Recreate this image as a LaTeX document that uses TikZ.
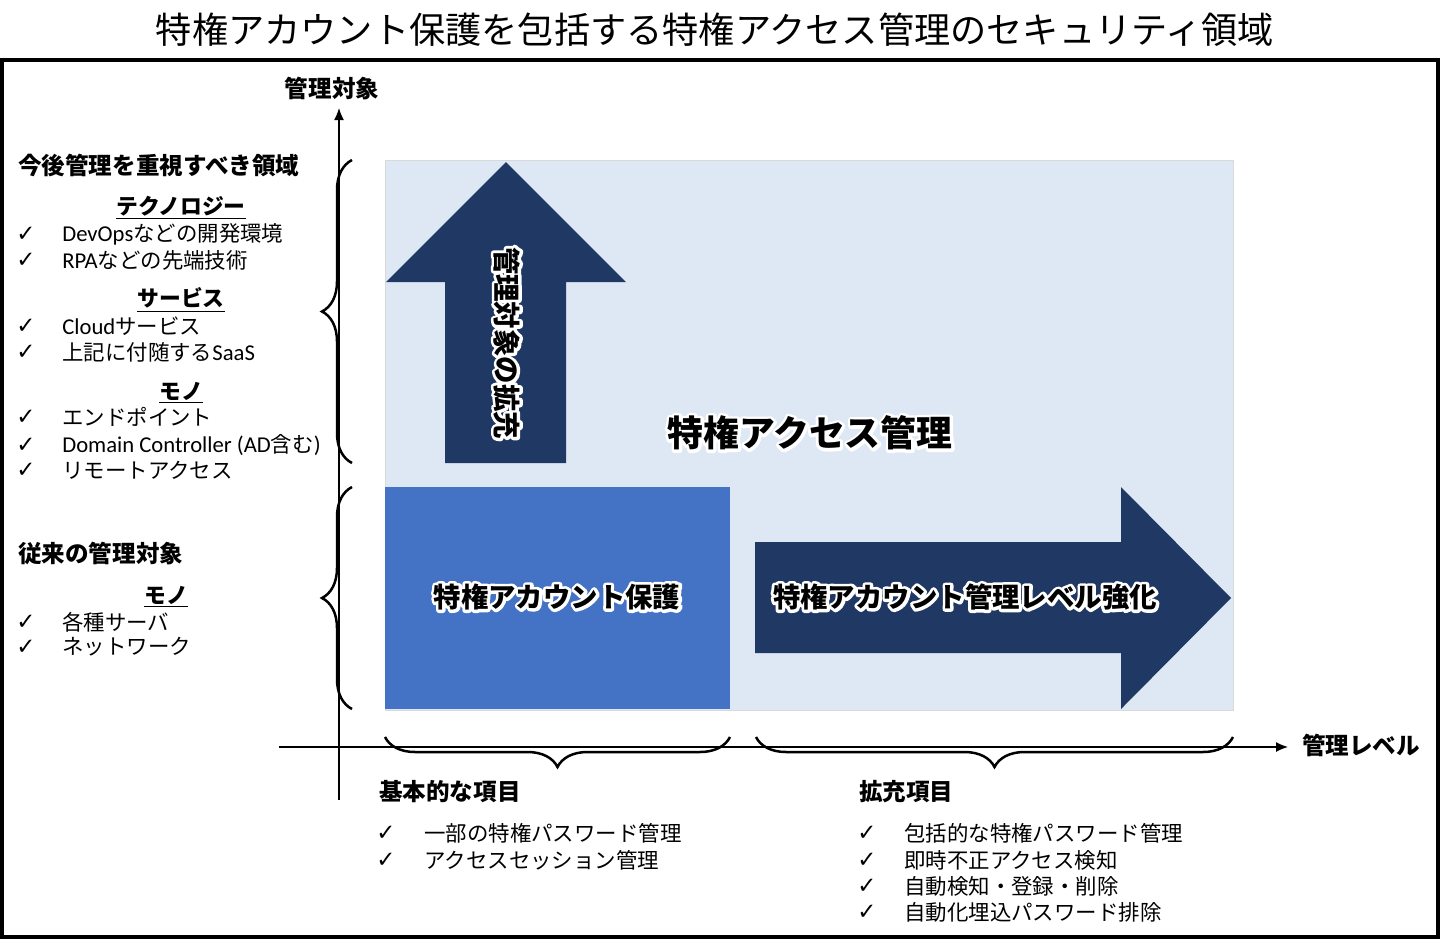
\documentclass[tikz,border=0pt]{standalone}
\usepackage{fontspec}
\setmainfont{Noto Sans CJK JP}
\newfontfamily\checkfont{DejaVu Sans}
\newfontfamily\latinfont{Carlito}
\usetikzlibrary{arrows.meta,decorations.pathreplacing}
\definecolor{areabg}{HTML}{DEE8F4}
\definecolor{protectblue}{HTML}{4472C4}
\definecolor{navyarrow}{HTML}{203864}
\newcommand{\glow}[1]{\leavevmode\rlap{\special{pdf:code q 1 Tr 3.4 w 1 1 1 RG 1 j 1 J}#1\special{pdf:code Q}}#1}
\newcommand{\lat}[1]{{\latinfont\fontsize{12.9}{15}\selectfont #1}}

\begin{document}
\begin{tikzpicture}[x=0.02cm,y=-0.02cm,
    every node/.append style={inner sep=0pt},
    title/.style={font=\fontsize{20.6}{25}\selectfont},
    heading/.style={anchor=west,font=\fontsize{13.4}{16}\selectfont\bfseries},
    subhead/.style={font=\fontsize{12.4}{15}\selectfont\bfseries},
    item/.style={anchor=west,font=\fontsize{12.2}{15}\selectfont},
    tick/.style={font=\fontsize{13}{14}\checkfont},
    glowtext/.style={font=\fontsize{15.6}{18}\selectfont\bfseries},
    axis/.style={line width=0.026cm,-{Latex[length=0.24cm,width=0.2cm]}},
    curly/.style={decorate,decoration={brace,amplitude=0.6cm},line width=0.05cm}]

    \useasboundingbox (0,0) rectangle (1440,941);
    \node [title] (T) at (715,30) {特権アカウント保護を包括する特権アクセス管理のセキュリティ領域};
    \draw [line width=0.08cm] (2,60) rectangle (1438,937);

    \node [anchor=north west,fill=areabg,draw=gray!30,minimum width=16.96cm,minimum height=11cm] (PAM) at (385,160) {};
    \node [anchor=north west,fill=protectblue,minimum width=6.9cm,minimum height=4.44cm] (PA) at (385,487) {};
    \fill [navyarrow] (445,463) -- (445,282) -- (386,282) -- (506,162) -- (626,282) -- (566,282) -- (566,463) -- cycle;
    \fill [navyarrow] (755,542) -- (1121,542) -- (1121,487) -- (1231,598) -- (1121,709) -- (1121,653) -- (755,653) -- cycle;

    \node [glowtext,rotate=-90] (UP) at (507,343) {\glow{管理対象の拡充}};
    \node [font=\fontsize{20.4}{24}\selectfont\bfseries] (PAMT) at (810,433) {\glow{特権アクセス管理}};
    \node [glowtext] (PAT) at (557,597) {\glow{特権アカウント保護}};
    \node [glowtext] (LVT) at (965,597) {\glow{特権アカウント管理レベル強化}};

    \coordinate (Yfoot) at (339,800);
    \coordinate (Ytop) at (339,108);
    \coordinate (Xfoot) at (279,747);
    \coordinate (Xtip) at (1288,747);
    \draw [axis] (Yfoot) -- (Ytop);
    \draw [axis] (Xfoot) -- (Xtip);
    \node [heading,anchor=center] (YL) at (332,88) {管理対象};
    \node [heading] (XL) at (1302,745) {管理レベル};

    \draw [curly] (352,463) -- (352,160);
    \draw [curly] (352,709) -- (352,487);
    \draw [curly] (730,737) -- (385,737);
    \draw [curly] (1233,737) -- (756,737);

    \node [heading] (NEW) at (18,165) {今後管理を重視すべき領域};
    \node [subhead] (TECH) at (181,208) {\underline{テクノロジー}};
    \node [tick] (c1) at (26,234) {✓};
    \node [item] (t1) at (62,234) {\lat{DevOps}などの開発環境};
    \node [tick] (c2) at (26,260) {✓};
    \node [item] (t2) at (62,260) {\lat{RPA}などの先端技術};
    \node [subhead] (SERV) at (181,300) {\underline{サービス}};
    \node [tick] (c3) at (26,326) {✓};
    \node [item] (s1) at (62,326) {\lat{Cloud}サービス};
    \node [tick] (c4) at (26,352) {✓};
    \node [item] (s2) at (62,352) {上記に付随する\lat{SaaS}};
    \node [subhead] (THING) at (181,393) {\underline{モノ}};
    \node [tick] (c5) at (26,417) {✓};
    \node [item] (m1) at (62,417) {エンドポイント};
    \node [tick] (c6) at (26,445) {✓};
    \node [item] (m2) at (62,445) {\lat{Domain Controller (AD}含む\lat{)}};
    \node [tick] (c7) at (26,470) {✓};
    \node [item] (m3) at (62,470) {リモートアクセス};

    \node [heading] (OLD) at (18,553) {従来の管理対象};
    \node [subhead] (OTHING) at (166,597) {\underline{モノ}};
    \node [tick] (c8) at (26,622) {✓};
    \node [item] (o1) at (62,622) {各種サーバ};
    \node [tick] (c9) at (26,647) {✓};
    \node [item] (o2) at (62,647) {ネットワーク};

    \node [heading] (BASE) at (379,792) {基本的な項目};
    \node [tick] (b1c) at (386,833) {✓};
    \node [item] (b1) at (424,833) {一部の特権パスワード管理};
    \node [tick] (b2c) at (386,860) {✓};
    \node [item] (b2) at (424,860) {アクセスセッション管理};

    \node [heading] (EXT) at (859,792) {拡充項目};
    \node [tick] (e1c) at (867,833) {✓};
    \node [item] (e1) at (904,833) {包括的な特権パスワード管理};
    \node [tick] (e2c) at (867,860) {✓};
    \node [item] (e2) at (904,860) {即時不正アクセス検知};
    \node [tick] (e3c) at (867,886) {✓};
    \node [item] (e3) at (904,886) {自動検知・登録・削除};
    \node [tick] (e4c) at (867,912) {✓};
    \node [item] (e4) at (904,912) {自動化埋込パスワード排除};
\end{tikzpicture}
\end{document}
